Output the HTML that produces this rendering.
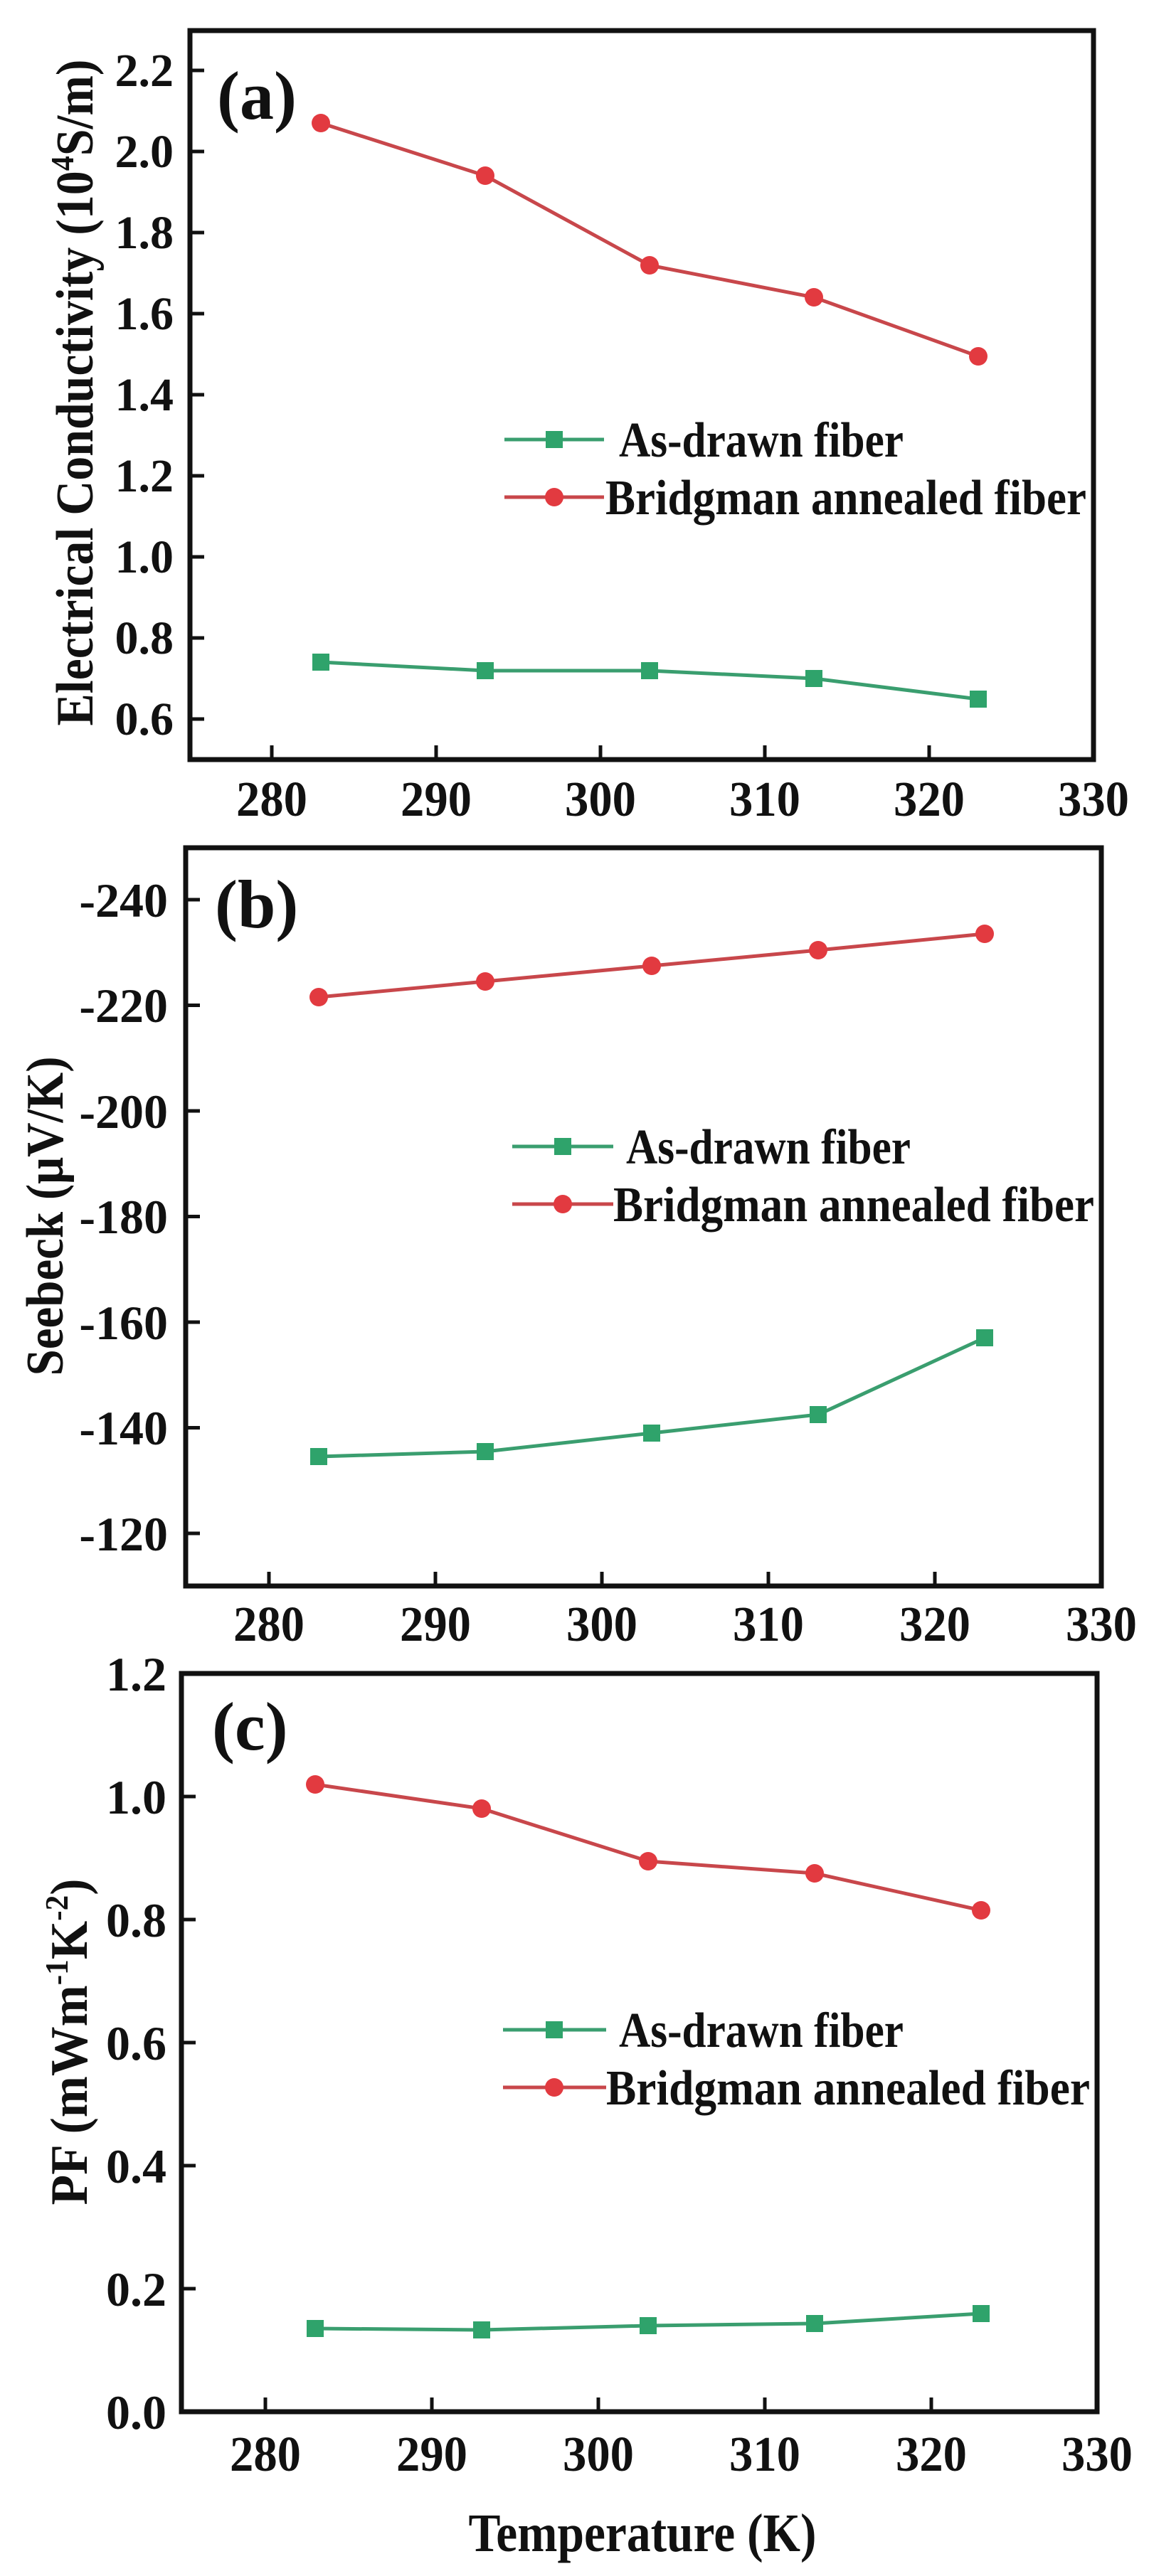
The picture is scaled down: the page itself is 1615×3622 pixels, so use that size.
<!DOCTYPE html>
<html><head><meta charset="utf-8"><style>
html,body{margin:0;padding:0;background:#fff;}
svg{display:block;}
text{font-family:"Liberation Serif","DejaVu Serif",serif;font-weight:bold;fill:#111;}
</style></head><body>
<svg width="1615" height="3622" viewBox="0 0 1615 3622" xmlns="http://www.w3.org/2000/svg">
<g stroke="#111" fill="none">
<rect x="267" y="43" width="1270" height="1025" stroke-width="7"/>
<rect x="261" y="1192" width="1287" height="1038" stroke-width="7"/>
<rect x="255" y="2353" width="1287" height="1038" stroke-width="7"/>
<g stroke-width="5">
<path d="M382 1068v-20M613 1068v-20M844 1068v-20M1075 1068v-20M1306 1068v-20"/>
<path d="M267 99h20M267 213h20M267 327h20M267 441h20M267 555h20M267 669h20M267 783h20M267 897h20M267 1011h20"/>
<path d="M378 2230v-20M612 2230v-20M846 2230v-20M1080 2230v-20M1314 2230v-20"/>
<path d="M261 1265h20M261 1413.5h20M261 1562h20M261 1710.5h20M261 1859h20M261 2007.5h20M261 2156h20"/>
<path d="M373 3391v-20M607 3391v-20M841 3391v-20M1075 3391v-20M1309 3391v-20"/>
<path d="M255 3218h20M255 3045h20M255 2872h20M255 2699h20M255 2526h20"/>
</g>
</g>
<polyline points="451,173 682,247 913,373 1144,418 1375,501" fill="none" stroke="#c8474b" stroke-width="5"/>
<polyline points="451,931 682,943 913,943 1144,954 1375,983" fill="none" stroke="#3a9e6f" stroke-width="5"/>
<g fill="#e23a40"><circle cx="451" cy="173" r="13"/><circle cx="682" cy="247" r="13"/><circle cx="913" cy="373" r="13"/><circle cx="1144" cy="418" r="13"/><circle cx="1375" cy="501" r="13"/></g>
<g fill="#2fa36b"><rect x="439" y="919" width="24" height="24"/><rect x="670" y="931" width="24" height="24"/><rect x="901" y="931" width="24" height="24"/><rect x="1132" y="942" width="24" height="24"/><rect x="1363" y="971" width="24" height="24"/></g>
<polyline points="448,1402 682,1380 916,1358 1150,1336 1384,1313" fill="none" stroke="#c8474b" stroke-width="5"/>
<polyline points="448,2048 682,2041 916,2015 1150,1989 1384,1881" fill="none" stroke="#3a9e6f" stroke-width="5"/>
<g fill="#e23a40"><circle cx="448" cy="1402" r="13"/><circle cx="682" cy="1380" r="13"/><circle cx="916" cy="1358" r="13"/><circle cx="1150" cy="1336" r="13"/><circle cx="1384" cy="1313" r="13"/></g>
<g fill="#2fa36b"><rect x="436" y="2036" width="24" height="24"/><rect x="670" y="2029" width="24" height="24"/><rect x="904" y="2003" width="24" height="24"/><rect x="1138" y="1977" width="24" height="24"/><rect x="1372" y="1869" width="24" height="24"/></g>
<polyline points="443,2509 677,2543 911,2617 1145,2634 1379,2686" fill="none" stroke="#c8474b" stroke-width="5"/>
<polyline points="443,3274 677,3276 911,3270 1145,3267 1379,3253" fill="none" stroke="#3a9e6f" stroke-width="5"/>
<g fill="#e23a40"><circle cx="443" cy="2509" r="13"/><circle cx="677" cy="2543" r="13"/><circle cx="911" cy="2617" r="13"/><circle cx="1145" cy="2634" r="13"/><circle cx="1379" cy="2686" r="13"/></g>
<g fill="#2fa36b"><rect x="431" y="3262" width="24" height="24"/><rect x="665" y="3264" width="24" height="24"/><rect x="899" y="3258" width="24" height="24"/><rect x="1133" y="3255" width="24" height="24"/><rect x="1367" y="3241" width="24" height="24"/></g>

<g stroke-width="5">
<line x1="709" y1="618" x2="849" y2="618" stroke="#3a9e6f"/><rect x="767" y="606" width="24" height="24" fill="#2fa36b" stroke="none"/>
<line x1="709" y1="699" x2="849" y2="699" stroke="#c8474b"/><circle cx="779" cy="699" r="13" fill="#e23a40" stroke="none"/>
<line x1="720" y1="1612" x2="862" y2="1612" stroke="#3a9e6f"/><rect x="779" y="1600" width="24" height="24" fill="#2fa36b" stroke="none"/>
<line x1="720" y1="1693" x2="862" y2="1693" stroke="#c8474b"/><circle cx="791" cy="1693" r="13" fill="#e23a40" stroke="none"/>
<line x1="707" y1="2854" x2="852" y2="2854" stroke="#3a9e6f"/><rect x="767" y="2842" width="24" height="24" fill="#2fa36b" stroke="none"/>
<line x1="707" y1="2935" x2="852" y2="2935" stroke="#c8474b"/><circle cx="779" cy="2935" r="13" fill="#e23a40" stroke="none"/>
</g>
<g font-size="70">
<text x="870" y="642" textLength="400" lengthAdjust="spacingAndGlyphs">As-drawn fiber</text>
<text x="851" y="723" textLength="676" lengthAdjust="spacingAndGlyphs">Bridgman annealed fiber</text>
<text x="880" y="1636" textLength="400" lengthAdjust="spacingAndGlyphs">As-drawn fiber</text>
<text x="862" y="1717" textLength="676" lengthAdjust="spacingAndGlyphs">Bridgman annealed fiber</text>
<text x="870" y="2878" textLength="400" lengthAdjust="spacingAndGlyphs">As-drawn fiber</text>
<text x="852" y="2959" textLength="680" lengthAdjust="spacingAndGlyphs">Bridgman annealed fiber</text>
</g>

<g font-size="96">
<text x="305" y="167">(a)</text>
<text x="302" y="1304">(b)</text>
<text x="298" y="2460">(c)</text>
</g>

<g font-size="70" text-anchor="middle">
<text x="382" y="1147" textLength="100" lengthAdjust="spacingAndGlyphs">280</text><text x="613" y="1147" textLength="100" lengthAdjust="spacingAndGlyphs">290</text><text x="844" y="1147" textLength="100" lengthAdjust="spacingAndGlyphs">300</text><text x="1075" y="1147" textLength="100" lengthAdjust="spacingAndGlyphs">310</text><text x="1306" y="1147" textLength="100" lengthAdjust="spacingAndGlyphs">320</text><text x="1537" y="1147" textLength="100" lengthAdjust="spacingAndGlyphs">330</text>
<text x="378" y="2307" textLength="100" lengthAdjust="spacingAndGlyphs">280</text><text x="612" y="2307" textLength="100" lengthAdjust="spacingAndGlyphs">290</text><text x="846" y="2307" textLength="100" lengthAdjust="spacingAndGlyphs">300</text><text x="1080" y="2307" textLength="100" lengthAdjust="spacingAndGlyphs">310</text><text x="1314" y="2307" textLength="100" lengthAdjust="spacingAndGlyphs">320</text><text x="1548" y="2307" textLength="100" lengthAdjust="spacingAndGlyphs">330</text>
<text x="373" y="3474" textLength="100" lengthAdjust="spacingAndGlyphs">280</text><text x="607" y="3474" textLength="100" lengthAdjust="spacingAndGlyphs">290</text><text x="841" y="3474" textLength="100" lengthAdjust="spacingAndGlyphs">300</text><text x="1075" y="3474" textLength="100" lengthAdjust="spacingAndGlyphs">310</text><text x="1309" y="3474" textLength="100" lengthAdjust="spacingAndGlyphs">320</text><text x="1542" y="3474" textLength="100" lengthAdjust="spacingAndGlyphs">330</text>
</g>

<g font-size="66" text-anchor="end">
<text x="244" y="121">2.2</text><text x="244" y="235">2.0</text><text x="244" y="349">1.8</text><text x="244" y="463">1.6</text><text x="244" y="577">1.4</text><text x="244" y="691">1.2</text><text x="244" y="805">1.0</text><text x="244" y="919">0.8</text><text x="244" y="1033">0.6</text>
</g>
<g font-size="68" text-anchor="end">
<text x="236" y="1289">-240</text><text x="236" y="1437">-220</text><text x="236" y="1586">-200</text><text x="236" y="1734">-180</text><text x="236" y="1883">-160</text><text x="236" y="2031">-140</text><text x="236" y="2180">-120</text>
<text x="234" y="2377">1.2</text><text x="234" y="2550">1.0</text><text x="234" y="2723">0.8</text><text x="234" y="2896">0.6</text><text x="234" y="3069">0.4</text><text x="234" y="3242">0.2</text><text x="234" y="3415">0.0</text>
</g>

<text font-size="74" text-anchor="middle" transform="translate(130,552) rotate(-90)" textLength="937" lengthAdjust="spacingAndGlyphs">Electrical Conductivity (10<tspan font-size="46" dy="-27">4</tspan><tspan dy="27">S/m)</tspan></text>
<text font-size="74" text-anchor="middle" transform="translate(88,1710) rotate(-90)" textLength="449" lengthAdjust="spacingAndGlyphs">Seebeck (μV/K)</text>
<text font-size="74" text-anchor="middle" transform="translate(122,2871) rotate(-90)" textLength="459" lengthAdjust="spacingAndGlyphs">PF (mWm<tspan font-size="46" dy="-27">-1</tspan><tspan dy="27">K</tspan><tspan font-size="46" dy="-27">-2</tspan><tspan dy="27">)</tspan></text>
<text font-size="76" x="903" y="3587" text-anchor="middle" textLength="489" lengthAdjust="spacingAndGlyphs">Temperature (K)</text>
</svg>
</body></html>
